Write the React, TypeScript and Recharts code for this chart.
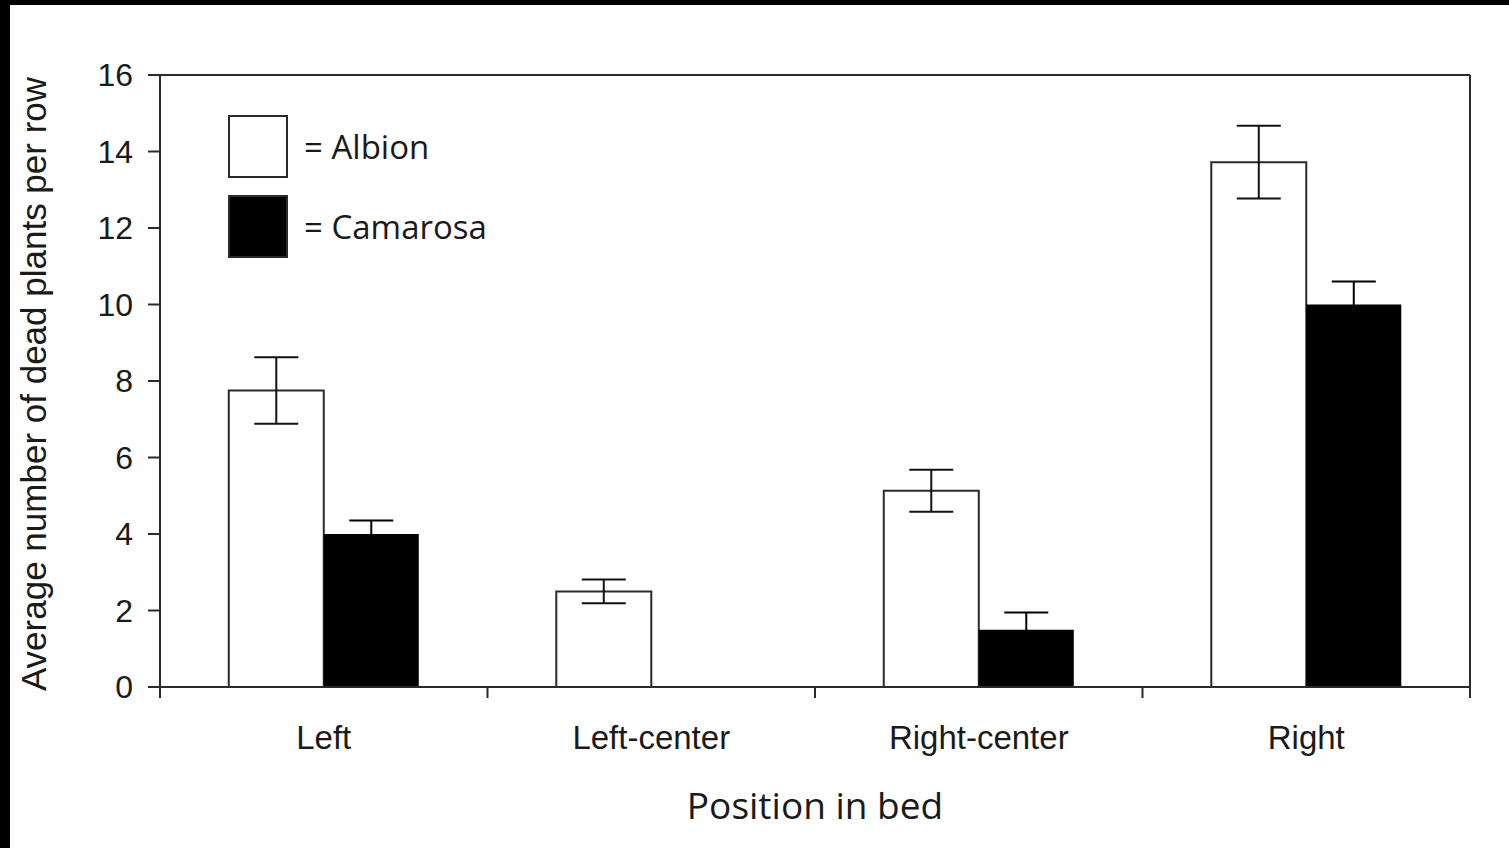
import { BarChart, Bar, XAxis, YAxis, ErrorBar, Legend, Label } from 'recharts';

const categories = ['Left', 'Left-center', 'Right-center', 'Right'];
const albion = [7.75, 2.5, 5.13, 13.72];
const albionErr = [0.87, 0.31, 0.55, 0.95];
const camarosa = [4.0, 0, 1.5, 10.0];
const camarosaErr = [0.35, 0, 0.45, 0.6];
const yTicks = [0, 2, 4, 6, 8, 10, 12, 14, 16];

const series = [
  { key: 'albion', name: 'Albion', fill: '#ffffff' },
  { key: 'camarosa', name: 'Camarosa', fill: '#000000' },
];

const data = categories.map((c, i) => ({
  category: c,
  albion: albion[i],
  albionErr: albionErr[i],
  camarosa: camarosa[i],
  camarosaErr: camarosaErr[i],
}));

const LINE = '#2a2a2a';
const ARIAL = '"Liberation Sans", Arial, sans-serif';
const MYRIAD = '"Open Sans", "Noto Sans", sans-serif';
const LABEL_GAP = 39;
const TICK_LEN = 11;

// category label plus tick marks on the band edges (between categories)
const CategoryTick = (props: any) => {
  const { x, y, payload, index, visibleTicksCount, width } = props;
  const half = payload.offset || width / visibleTicksCount / 2;
  const axisY = y - LABEL_GAP;
  const isLast = index === visibleTicksCount - 1;
  return (
    <g>
      <line x1={x - half} x2={x - half} y1={axisY} y2={axisY + TICK_LEN} stroke={LINE} strokeWidth={2} />
      {isLast && (
        <line x1={x + half} x2={x + half} y1={axisY} y2={axisY + TICK_LEN} stroke={LINE} strokeWidth={2} />
      )}
      <text x={x} y={y} dy="0.71em" textAnchor="middle" fontSize={33} fontFamily={ARIAL} fill="#1a1a1a">
        {payload.value}
      </text>
    </g>
  );
};

// legend drawn as two boxes with "= name" next to them
const renderLegend = () => (
  <div style={{ fontFamily: MYRIAD, fontSize: 33, color: '#1a1a1a' }}>
    {series.map((s) => (
      <div key={s.key} style={{ display: 'flex', alignItems: 'center', height: 63, marginBottom: 17 }}>
        <div
          style={{
            width: 60,
            height: 63,
            boxSizing: 'border-box',
            border: `2px solid ${LINE}`,
            background: s.fill,
          }}
        />
        <span style={{ marginLeft: 16, whiteSpace: 'nowrap' }}>= {s.name}</span>
      </div>
    ))}
  </div>
);

export default function App() {
  return (
    <div style={{ position: 'absolute', left: 0, top: 0, width: 1509, height: 848, background: '#000' }}>
      <div style={{ position: 'absolute', left: 10, top: 5, width: 1499, height: 843, background: '#fff' }} />
      <BarChart
        width={1509}
        height={848}
        data={data}
        margin={{ top: 74, right: 38, left: 0, bottom: 0 }}
        barCategoryGap="21%"
        barGap={0}
        style={{ position: 'absolute', left: 0, top: 0 }}
      >
        <XAxis
          dataKey="category"
          height={161}
          interval={0}
          tickLine={false}
          tickSize={0}
          tickMargin={LABEL_GAP}
          axisLine={{ stroke: LINE, strokeWidth: 2 }}
          tick={<CategoryTick />}
        >
          <Label
            content={({ viewBox }: any) => (
              <text
                x={viewBox.x + viewBox.width / 2}
                y={819}
                textAnchor="middle"
                fontSize={37}
                fontFamily={MYRIAD}
                fill="#1a1a1a"
              >
                Position in bed
              </text>
            )}
          />
        </XAxis>
        <XAxis
          xAxisId="top"
          orientation="top"
          type="number"
          domain={[0, 4]}
          allowDataOverflow
          height={1}
          tick={false}
          tickLine={false}
          axisLine={{ stroke: LINE, strokeWidth: 2 }}
        />
        <YAxis
          domain={[0, 16]}
          ticks={yTicks}
          width={160}
          tickSize={12}
          tickMargin={15}
          axisLine={{ stroke: LINE, strokeWidth: 2 }}
          tickLine={{ stroke: LINE, strokeWidth: 2 }}
          tick={{ fontSize: 32, fill: '#1a1a1a', fontFamily: ARIAL }}
        >
          <Label
            content={() => (
              <text
                x={46}
                y={384}
                transform="rotate(-90 46 384)"
                textAnchor="middle"
                fontSize={35}
                fontFamily={ARIAL}
                fill="#1a1a1a"
              >
                Average number of dead plants per row
              </text>
            )}
          />
        </YAxis>
        <YAxis
          yAxisId="right"
          orientation="right"
          domain={[0, 16]}
          width={1}
          tick={false}
          tickLine={false}
          axisLine={{ stroke: LINE, strokeWidth: 2 }}
        />
        <Legend
          layout="vertical"
          verticalAlign="middle"
          align="center"
          content={renderLegend}
          wrapperStyle={{ left: 228, top: 115, width: 300 }}
        />
        <Bar
          dataKey="albion"
          name="Albion"
          fill="#ffffff"
          stroke={LINE}
          strokeWidth={2}
          isAnimationActive={false}
        >
          <ErrorBar dataKey="albionErr" width={22} stroke="#111" strokeWidth={2} />
        </Bar>
        <Bar
          dataKey="camarosa"
          name="Camarosa"
          fill="#000000"
          isAnimationActive={false}
        >
          <ErrorBar dataKey="camarosaErr" width={22} stroke="#000" strokeWidth={2} />
        </Bar>
      </BarChart>
    </div>
  );
}
